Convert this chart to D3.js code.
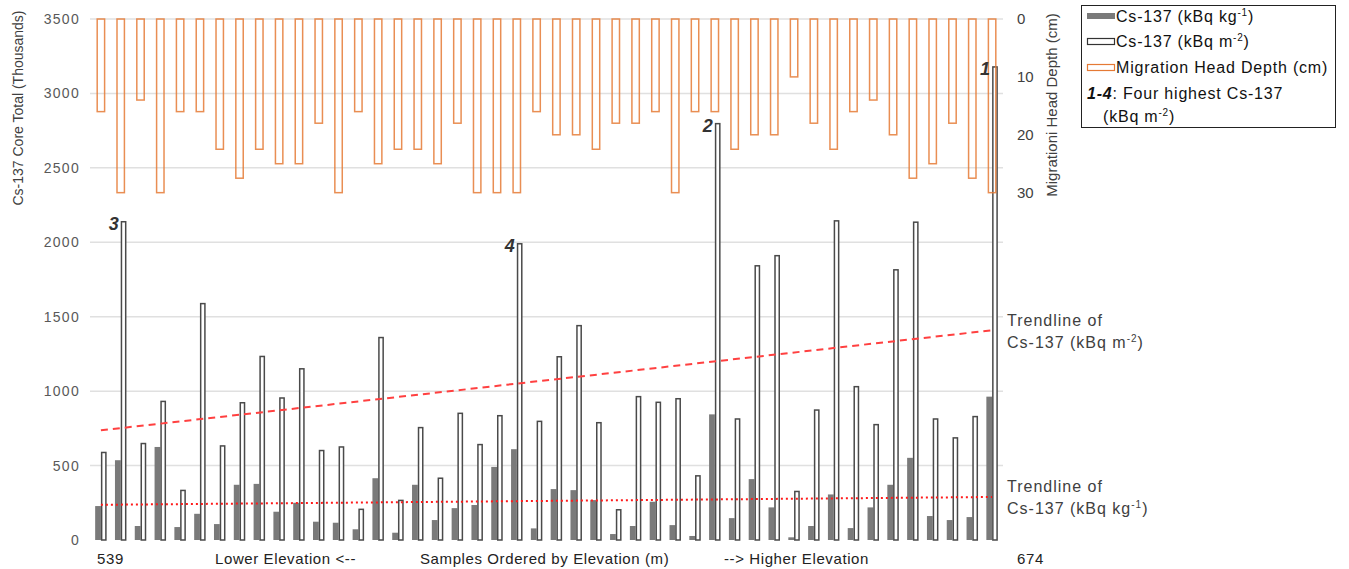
<!DOCTYPE html>
<html><head><meta charset="utf-8">
<script src="https://cdn.jsdelivr.net/npm/d3@7"></script>
<style>
body{margin:0;background:#fff;}
svg text{font-family:"Liberation Sans",Arial,sans-serif;}
</style></head>
<body><svg id="c" width="1349" height="569"></svg>
<script>
// ---- data ----
const samples = d3.range(1, 47); // 46 samples ordered by elevation
const csKg = [228,536,94,625,87,176,107,371,377,190,250,123,116,72,415,49,371,134,214,235,491,610,78,342,335,268,40,94,257,100,27,844,147,409,219,18,94,306,80,219,371,552,161,134,154,963];
const csM2 = [588,2138,648,931,333,1588,632,922,1233,954,1150,601,625,206,1360,266,755,415,851,641,835,1990,797,1231,1440,788,203,963,925,949,431,2797,813,1842,1910,326,873,2144,1030,775,1815,2135,813,686,829,3178];
const depth = [16,30,14,30,16,16,22.5,27.5,22.5,25,25,18,30,16,25,22.5,22.5,25,18,30,30,30,16,20,20,22.5,18,18,16,30,16,16,22.5,20,20,10,18,22.5,16,14,20,27.5,25,18,27.5,30];
const highLabels = ["3","4","2","1"];
const highIndex = [2,22,32,46];
const leftTicks = [0,500,1000,1500,2000,2500,3000,3500];
const rightTicks = [0,10,20,30];
const xLabels = ["539","Lower Elevation <--","Samples Ordered by Elevation (m)","--> Higher Elevation","674"];

// ---- layout ----
const svg = d3.select("#c");
const L = 91, R = 1002, T = 19, B = 540;
const x = d3.scaleBand().domain(samples).range([L, R]).paddingInner(0.42).paddingOuter(0.21);
const xs = d3.scaleBand().domain(["kg","m2"]).range([0, x.bandwidth()]);
const xo = d3.scaleBand().domain(samples).range([L, R]).paddingInner(0.55).paddingOuter(0.275);
const y = d3.scaleLinear().domain([0, 3500]).range([B, T]);
const y2 = d3.scaleLinear().domain([0, 90]).range([T, B]);

// gridlines
svg.append("g").selectAll("line").data(leftTicks.slice(1)).join("line")
  .attr("x1", L-1).attr("x2", R+1).attr("y1", d=>y(d)).attr("y2", d=>y(d))
  .attr("stroke", "#e0e0e0").attr("stroke-width", 1.5);

// left axis
const ay = d3.axisLeft(y).tickValues(leftTicks).tickFormat(d3.format("d")).tickSize(0).tickPadding(0);
const gy = svg.append("g").attr("transform", "translate(80,0)").call(ay);
gy.select(".domain").remove();
gy.selectAll("text").attr("font-size", 14).attr("letter-spacing", 1.3).attr("fill", "#595959").attr("font-family", "Liberation Sans, Arial");

// right axis
const ay2 = d3.axisRight(y2).tickValues(rightTicks).tickSize(0).tickPadding(0);
const gy2 = svg.append("g").attr("transform", "translate(1017,0)").call(ay2);
gy2.select(".domain").remove();
gy2.selectAll("text").attr("font-size", 15).attr("fill", "#404040").attr("font-family", "Liberation Sans, Arial");

// axis titles
svg.append("text").attr("transform", "translate(23,108) rotate(-90)").attr("text-anchor", "middle")
  .attr("font-size", 14).attr("fill", "#404040").text("Cs-137 Core Total (Thousands)");
svg.append("text").attr("transform", "translate(1057,105) rotate(-90)").attr("text-anchor", "middle")
  .attr("font-size", 15).attr("fill", "#404040").text("Migrationi Head Depth (cm)");

// gray bars (kBq kg-1)
svg.append("g").selectAll("rect").data(csKg).join("rect")
  .attr("x", (d,i)=>x(samples[i]) + xs("kg"))
  .attr("width", xs.bandwidth())
  .attr("y", d=>y(d)).attr("height", d=>B - y(d))
  .attr("fill", "#7a7a7a");

// white bars (kBq m-2)
svg.append("g").selectAll("rect").data(csM2).join("rect")
  .attr("x", (d,i)=>x(samples[i]) + xs("m2") + 0.75)
  .attr("width", xs.bandwidth() - 1.5)
  .attr("y", d=>y(d)).attr("height", d=>B - y(d))
  .attr("fill", "#fff").attr("stroke", "#4a4a4a").attr("stroke-width", 1.5);

// orange bars (depth, secondary reversed axis)
svg.append("g").selectAll("rect").data(depth).join("rect")
  .attr("x", (d,i)=>xo(samples[i]) + 0.75)
  .attr("width", xo.bandwidth() - 1.5)
  .attr("y", y2(0)).attr("height", d=>y2(d) - y2(0))
  .attr("fill", "none").attr("stroke", "#E57A35").attr("stroke-opacity", 0.85).attr("stroke-width", 1.5);

// trendlines (linear regression of each series)
function regress(vals){
  const n = vals.length, xsArr = d3.range(1, n+1);
  const mx = d3.mean(xsArr), my = d3.mean(vals);
  let sxy = 0, sxx = 0;
  xsArr.forEach((xi,i)=>{ sxy += (xi-mx)*(vals[i]-my); sxx += (xi-mx)*(xi-mx); });
  const b = sxy/sxx, a = my - b*mx;
  return [a + b*1, a + b*n];
}
const cx = i => x(samples[i]) + x.bandwidth()/2;
const tM2 = regress(csM2), tKg = regress(csKg);
svg.append("line").attr("x1", cx(0)).attr("x2", cx(45)).attr("y1", y(tM2[0])).attr("y2", y(tM2[1]))
  .attr("stroke", "#ff4040").attr("stroke-width", 2).attr("stroke-dasharray", "7,5");
svg.append("line").attr("x1", cx(0)).attr("x2", cx(45)).attr("y1", y(tKg[0])).attr("y2", y(tKg[1]))
  .attr("stroke", "#ff1a1a").attr("stroke-width", 2).attr("stroke-dasharray", "2,3");

// high labels
svg.append("g").selectAll("text").data(highIndex).join("text")
  .attr("x", d=>x(samples[d-1]) + xs("m2") - 2)
  .attr("y", d=>y(csM2[d-1]) + 8)
  .attr("text-anchor", "end").attr("font-size", 18).attr("font-style", "italic").attr("font-weight", "bold")
  .attr("fill", "#333").text((d,i)=>highLabels[i]);

// x labels
const xlPos = [97, 215, 420, 724, 1017];
svg.append("g").selectAll("text").data(xLabels).join("text")
  .attr("x", (d,i)=>xlPos[i]).attr("y", 564).attr("font-size", 15).attr("letter-spacing", 0.6)
  .attr("fill", "#222").text(d=>d);

// trendline labels
function supText(g, xx, yy, base, sup, tail){
  const t = g.append("text").attr("x", xx).attr("y", yy).attr("font-size", 16).attr("letter-spacing", 1)
    .attr("fill", "#404040");
  t.append("tspan").text(base);
  t.append("tspan").attr("dy", -6).attr("font-size", 10).text(sup);
  t.append("tspan").attr("dy", 6).text(tail);
  return t;
}
svg.append("text").attr("x", 1007).attr("y", 326).attr("font-size", 16).attr("letter-spacing", 1)
  .attr("fill", "#404040").text("Trendline of");
supText(svg, 1007, 348, "Cs-137 (kBq m", "-2", ")");
svg.append("text").attr("x", 1007).attr("y", 492).attr("font-size", 16).attr("letter-spacing", 1)
  .attr("fill", "#404040").text("Trendline of");
supText(svg, 1007, 514, "Cs-137 (kBq kg", "-1", ")");

// legend
const lg = svg.append("g");
lg.append("rect").attr("x", 1081.5).attr("y", 5.5).attr("width", 254).attr("height", 122)
  .attr("fill", "#fff").attr("stroke", "#222").attr("stroke-width", 1);
lg.append("rect").attr("x", 1087).attr("y", 13).attr("width", 28).attr("height", 6).attr("fill", "#7a7a7a");
lg.append("rect").attr("x", 1087.5).attr("y", 38.5).attr("width", 27).attr("height", 6).attr("fill", "#fff").attr("stroke", "#333").attr("stroke-width", 1.2);
lg.append("rect").attr("x", 1087.5).attr("y", 64.5).attr("width", 27).attr("height", 6).attr("fill", "#fff").attr("stroke", "#E57A35").attr("stroke-width", 1.2);
function legText(xx, yy, base, sup, tail){
  const t = lg.append("text").attr("x", xx).attr("y", yy).attr("font-size", 16).attr("letter-spacing", 0.8).attr("fill", "#111");
  t.append("tspan").text(base);
  if (sup){ t.append("tspan").attr("dy", -6).attr("font-size", 10).text(sup); t.append("tspan").attr("dy", 6).text(tail); }
}
legText(1116, 22, "Cs-137 (kBq kg", "-1", ")");
legText(1116, 47, "Cs-137 (kBq m", "-2", ")");
legText(1116, 73, "Migration Head Depth (cm)");
const t4 = lg.append("text").attr("x", 1087).attr("y", 99).attr("font-size", 16).attr("letter-spacing", 0.8).attr("fill", "#111");
t4.append("tspan").attr("font-style", "italic").attr("font-weight", "bold").text("1-4");
t4.append("tspan").text(": Four highest Cs-137");
legText(1103, 122, "(kBq m", "-2", ")");
</script></body></html>
